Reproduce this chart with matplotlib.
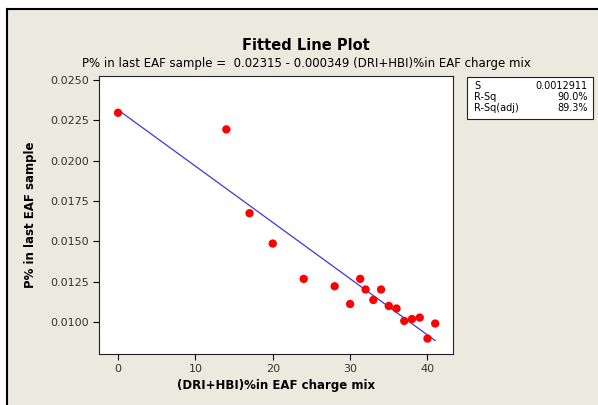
import numpy as np
import matplotlib
matplotlib.use("Agg")
import matplotlib.pyplot as plt
from matplotlib.patches import Rectangle
from matplotlib.lines import Line2D

# data
dri_hbi = [0, 14, 17, 20, 24, 28, 30, 31.3, 32, 33, 34, 35, 36, 37, 38, 39, 40, 41]
p_last = [0.02297, 0.02194, 0.01674, 0.01486, 0.01267, 0.01221, 0.01111, 0.01267,
          0.01201, 0.01136, 0.01201, 0.01099, 0.01083, 0.01006, 0.01018, 0.01027,
          0.00897, 0.00990]

intercept = 0.02315
slope = -0.000349

x_ticks = [0, 10, 20, 30, 40]
y_ticks = [0.0100, 0.0125, 0.0150, 0.0175, 0.0200, 0.0225, 0.0250]

stats_names = ["S", "R-Sq", "R-Sq(adj)"]
stats_values = ["0.0012911", "90.0%", "89.3%"]

bg = "#ECE9DF"

fig = plt.figure(figsize=(5.98, 4.05), dpi=100)
fig.patch.set_facecolor("white")

W, H = 598.0, 405.0

# beige panel with black frame on top/left
fig.patches.append(Rectangle((7 / W, 0), 1, 1 - 9 / H, transform=fig.transFigure,
                             facecolor=bg, edgecolor="none", zorder=-10))
fig.add_artist(Line2D([7 / W, 7 / W], [0, 1 - 9 / H], transform=fig.transFigure,
                      color="black", lw=1.5))
fig.add_artist(Line2D([7 / W, 1], [1 - 9 / H, 1 - 9 / H], transform=fig.transFigure,
                      color="black", lw=1.5))

ax = fig.add_axes([99 / W, 1 - 354 / H, 354 / W, 278 / H])
ax.set_facecolor("white")

xs = np.array([min(dri_hbi), max(dri_hbi)])
ax.plot(xs, intercept + slope * xs, color="#3a3ad0", lw=0.9, zorder=2)
ax.scatter(dri_hbi, p_last, s=36, color="#ff0000", edgecolors="none", zorder=3)

ax.set_xlim(-2.46, 43.3)
ax.set_ylim(0.00801, 0.02525)
ax.set_xticks(x_ticks)
ax.set_yticks(y_ticks)
ax.set_yticklabels([f"{v:.4f}" for v in y_ticks])
ax.tick_params(direction="out", length=4, width=0.8, colors="black",
               labelsize=8, labelcolor="#333333", pad=3)
for s in ax.spines.values():
    s.set_linewidth(0.8)
    s.set_color("#222222")

ax.set_xlabel("(DRI+HBI)%in EAF charge mix", fontsize=8.5, fontweight="bold", labelpad=4)
ax.set_ylabel("P% in last EAF sample", fontsize=8.5, fontweight="bold", labelpad=10)

fig.text(306 / W, 1 - 45 / H, "Fitted Line Plot", ha="center", va="center",
         fontsize=10.5, fontweight="bold")
fig.text(306 / W, 1 - 64 / H,
         "P% in last EAF sample =  0.02315 - 0.000349 (DRI+HBI)%in EAF charge mix",
         ha="center", va="center", fontsize=8.5)

# stats box
fig.patches.append(Rectangle((467 / W, 1 - 119 / H), 126 / W, 42 / H,
                             transform=fig.transFigure, facecolor="white",
                             edgecolor="#222222", lw=0.8))
for i, (name, val) in enumerate(zip(stats_names, stats_values)):
    yy = 1 - (86 + 11 * i) / H
    fig.text(474 / W, yy, name, ha="left", va="center", fontsize=7)
    fig.text(588 / W, yy, val, ha="right", va="center", fontsize=7)

fig.savefig("out.png", dpi=100, facecolor=fig.get_facecolor())
